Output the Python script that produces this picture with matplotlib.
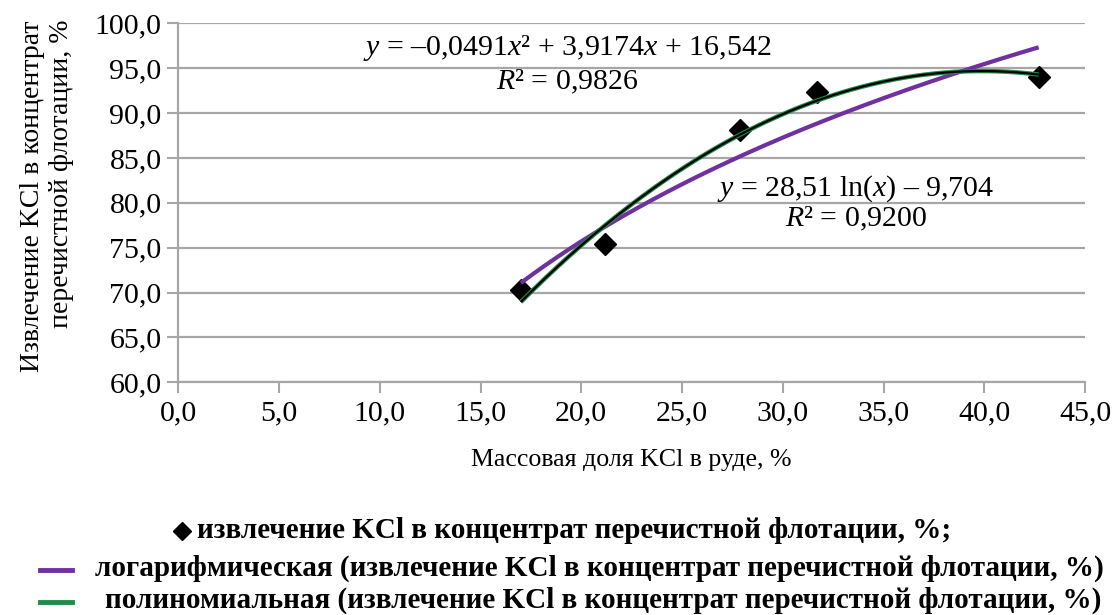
import numpy as np
import matplotlib
matplotlib.use("Agg")
import matplotlib.pyplot as plt
from matplotlib.lines import Line2D

# KCl content in ore vs. KCl recovery into the cleaner flotation concentrate
ore_kcl = [17.0, 21.2, 27.9, 31.7, 42.7]
recovery = [70.3, 75.4, 88.1, 92.3, 94.0]

# trendline coefficients
log_a, log_b = 28.51, -9.704
poly_c = [-0.0491, 3.9174, 16.542]

x_ticks = [0, 5, 10, 15, 20, 25, 30, 35, 40, 45]
y_ticks = [60, 65, 70, 75, 80, 85, 90, 95, 100]

plt.rcParams['font.family'] = ['Liberation Serif', 'DejaVu Serif']
plt.rcParams['mathtext.fontset'] = 'custom'
plt.rcParams['mathtext.rm'] = 'Liberation Serif'
plt.rcParams['mathtext.it'] = 'Liberation Serif:italic'

W, H = 1112, 615
fig = plt.figure(figsize=(W / 100, H / 100), dpi=100)
ax = fig.add_axes([178.3 / W, 1 - 382.3 / H, (1085 - 178.3) / W, (382.3 - 23.3) / H])

grid_col = '#a6a6a6'
purple = '#7030A0'
green = '#1E8C46'

ax.set_xlim(0, 45)
ax.set_ylim(60, 100)
ax.set_xticks(x_ticks)
ax.set_yticks(y_ticks)
fmt = lambda v: f"{v:.1f}".replace('.', ',')
ax.set_xticklabels([fmt(v) for v in x_ticks])
ax.set_yticklabels([fmt(v) for v in y_ticks])
ax.tick_params(axis='both', labelsize=21.5, color=grid_col, length=8, width=1.5,
               direction='out')
ax.tick_params(axis='x', pad=5)
ax.tick_params(axis='y', pad=4)
ax.yaxis.grid(True, color=grid_col, linewidth=1.6)
ax.set_axisbelow(True)
for side in ('top', 'right'):
    ax.spines[side].set_visible(False)
for side in ('left', 'bottom'):
    ax.spines[side].set_color(grid_col)
    ax.spines[side].set_linewidth(1.6)

xs = np.linspace(min(ore_kcl), max(ore_kcl), 300)
ax.plot(xs, log_a * np.log(xs) + log_b, color=purple, lw=3, zorder=3,
        solid_capstyle='butt')
poly_y = np.polyval(poly_c, xs)
ax.plot(xs, poly_y, color=green, lw=3.2, zorder=4, solid_capstyle='butt')
ax.plot(xs, poly_y, color='black', lw=1.6, zorder=5, solid_capstyle='butt')
ax.plot(ore_kcl, recovery, linestyle='none', marker='D', ms=11.5,
        mfc='black', mec='black', zorder=2)

def px(x, y):
    return x / W, 1 - y / H

fig.text(*px(567, 48), r"$y$ = –0,0491$x$² + 3,9174$x$ + 16,542", fontsize=21.5,
         ha='center', va='center')
fig.text(*px(567, 82), r"$R$² = 0,9826", fontsize=21.5, ha='center', va='center')
fig.text(*px(856, 189), r"$y$ = 28,51 ln($x$) – 9,704", fontsize=21.5,
         ha='center', va='center')
fig.text(*px(856, 219), r"$R$² = 0,9200", fontsize=21.5, ha='center', va='center')

ax.set_xlabel("Массовая доля KCl в руде, %", fontsize=18.6, labelpad=16)
fig.text(*px(47, 20), "Извлечение KCl в концентрат\nперечистной флотации, %",
         rotation=90, fontsize=20, ha='center', va='top', multialignment='right',
         linespacing=1.2)

# legend
fig.add_artist(Line2D([182 / W], [1 - 531 / H], marker='D', ms=9.5, color='black',
                      linestyle='none', transform=fig.transFigure))
fig.text(*px(197, 531), "извлечение KCl в концентрат перечистной флотации, %;",
         fontsize=21, fontweight='bold', ha='left', va='center')
fig.add_artist(Line2D([40 / W, 72 / W], [1 - 570 / H] * 2, color=purple, lw=3.5,
                      transform=fig.transFigure))
fig.text(*px(95, 568),
         "логарифмическая (извлечение KCl в концентрат перечистной флотации, %)",
         fontsize=21, fontweight='bold', ha='left', va='center')
fig.add_artist(Line2D([40 / W, 72 / W], [1 - 602 / H] * 2, color=green, lw=3.5,
                      transform=fig.transFigure))
fig.text(*px(105, 600),
         "полиномиальная (извлечение KCl в концентрат перечистной флотации, %)",
         fontsize=21, fontweight='bold', ha='left', va='center')

fig.savefig("out.png", dpi=100)
